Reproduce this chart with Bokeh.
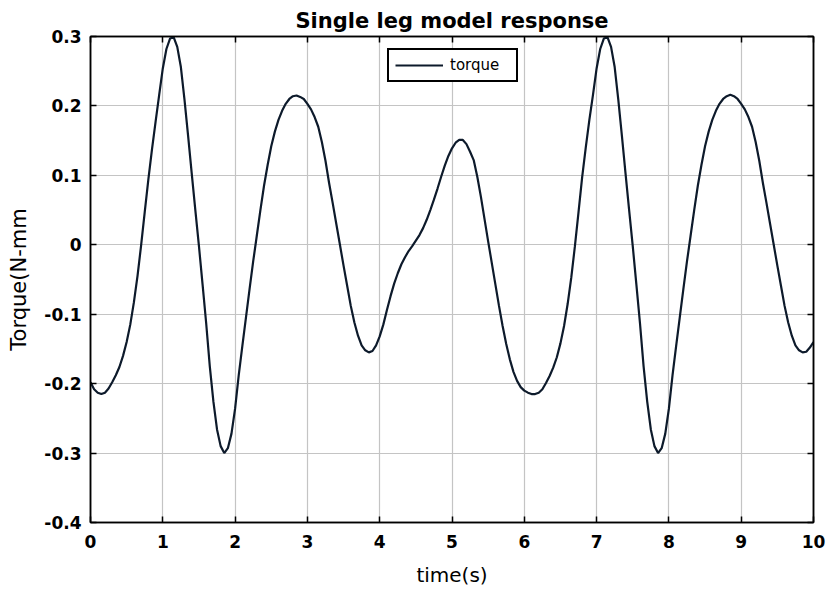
from bokeh.plotting import figure
from bokeh.models import (LinearAxis, FixedTicker, CustomJSTickFormatter, Legend, LegendItem, Range1d)
from bokeh.embed import file_html
from bokeh.resources import INLINE

# ---- data ----
time_s = [round(i * 0.05, 2) for i in range(201)]
torque = [
    -0.198, -0.208, -0.213, -0.215, -0.213, -0.207, -0.198, -0.188, -0.176, -0.160,   # 0.00-0.45
    -0.140, -0.115, -0.083, -0.045, -0.001, 0.047, 0.094, 0.137, 0.177, 0.216,       # 0.50-0.95
    0.254, 0.282, 0.297, 0.299, 0.285, 0.256, 0.209, 0.157, 0.103, 0.050,            # 1.00-1.45
    -0.002, -0.057, -0.113, -0.175, -0.226, -0.266, -0.290, -0.300, -0.293, -0.272,  # 1.50-1.95
    -0.236, -0.188, -0.146, -0.105, -0.064, -0.024, 0.013, 0.050, 0.085, 0.115,      # 2.00-2.45
    0.142, 0.163, 0.180, 0.193, 0.203, 0.210, 0.214, 0.215, 0.213, 0.210,            # 2.50-2.95
    0.203, 0.195, 0.184, 0.170, 0.148, 0.121, 0.089, 0.060, 0.030, 0.000,            # 3.00-3.45
    -0.030, -0.059, -0.088, -0.112, -0.131, -0.145, -0.152, -0.155, -0.153, -0.145,  # 3.50-3.95
    -0.132, -0.115, -0.094, -0.074, -0.056, -0.041, -0.028, -0.018, -0.009, -0.002,  # 4.00-4.45
    0.006, 0.014, 0.024, 0.036, 0.050, 0.065, 0.081, 0.098, 0.114, 0.128,            # 4.50-4.95
    0.139, 0.147, 0.151, 0.151, 0.145, 0.134, 0.122, 0.098, 0.069, 0.037,            # 5.00-5.45
    0.005, -0.026, -0.057, -0.088, -0.117, -0.143, -0.165, -0.183, -0.196, -0.205,   # 5.50-5.95
    -0.210, -0.213, -0.215, -0.215, -0.213, -0.208, -0.199, -0.189, -0.177, -0.162,  # 6.00-6.45
    -0.142, -0.117, -0.085, -0.047, -0.002, 0.047, 0.097, 0.140, 0.180, 0.216,       # 6.50-6.95
    0.254, 0.282, 0.297, 0.299, 0.285, 0.256, 0.209, 0.157, 0.103, 0.050,            # 7.00-7.45
    -0.002, -0.057, -0.113, -0.175, -0.226, -0.266, -0.290, -0.300, -0.293, -0.272,  # 7.50-7.95
    -0.236, -0.188, -0.146, -0.105, -0.064, -0.024, 0.013, 0.050, 0.085, 0.115,      # 8.00-8.45
    0.142, 0.163, 0.180, 0.193, 0.203, 0.210, 0.214, 0.216, 0.214, 0.210,            # 8.50-8.95
    0.203, 0.195, 0.184, 0.170, 0.148, 0.121, 0.089, 0.060, 0.030, 0.000,            # 9.00-9.45
    -0.030, -0.059, -0.088, -0.112, -0.131, -0.145, -0.152, -0.155, -0.154, -0.148,  # 9.50-9.95
    -0.140,                                                                          # 10.00
]
x_ticks = [0, 1, 2, 3, 4, 5, 6, 7, 8, 9, 10]
y_ticks = [-0.4, -0.3, -0.2, -0.1, 0, 0.1, 0.2, 0.3]
title_text = "Single leg model response"
x_label = "time(s)"
y_label = "Torque(N-mm"
series_name = "torque"

FONT = "DejaVu Sans"

p = figure(width=827, height=589, output_backend="svg", toolbar_location=None,
           x_range=Range1d(0, 10), y_range=Range1d(-0.4, 0.3),
           min_border_left=90, min_border_right=14, min_border_top=36, min_border_bottom=66,
           title=title_text)

p.title.align = "center"
p.title.text_font = FONT
p.title.text_font_size = "21px"
p.title.text_font_style = "bold"
p.title.text_color = "black"
p.title.offset = 0
p.title.standoff = 8

p.outline_line_color = "black"
p.outline_line_width = 1.5
p.background_fill_color = "white"
p.border_fill_color = "white"

yfmt = CustomJSTickFormatter(code="return Math.abs(tick) < 1e-9 ? '0' : tick.toFixed(1);")
blank = CustomJSTickFormatter(code="return '';")

for ax in p.xaxis:
    ax.ticker = FixedTicker(ticks=x_ticks)
for ax in p.yaxis:
    ax.ticker = FixedTicker(ticks=y_ticks)
    ax.formatter = yfmt

for ax in list(p.xaxis) + list(p.yaxis):
    ax.major_tick_in = 6
    ax.major_tick_out = 0
    ax.minor_tick_in = 0
    ax.minor_tick_out = 0
    ax.axis_line_color = "black"
    ax.axis_line_width = 1.5
    ax.major_tick_line_color = "black"
    ax.major_tick_line_width = 1.5
    ax.major_label_text_font = FONT
    ax.major_label_text_font_size = "17px"
    ax.major_label_text_font_style = "bold"
    ax.major_label_text_color = "black"
    ax.axis_label_text_font = FONT
    ax.axis_label_text_font_style = "normal"
    ax.axis_label_text_color = "black"

p.xaxis.axis_label = x_label
p.yaxis.axis_label = y_label
p.xaxis.axis_label_text_font_size = "20px"
p.yaxis.axis_label_text_font_size = "21px"
p.xaxis.major_label_standoff = 12
p.yaxis.major_label_standoff = 9
p.xaxis.axis_label_standoff = 12
p.yaxis.axis_label_standoff = 10

# mirrored axes (box with ticks on top and right)
for side, ticks in (("right", y_ticks), ("above", x_ticks)):
    ax = LinearAxis(ticker=FixedTicker(ticks=ticks), formatter=blank)
    ax.major_tick_in = 6
    ax.major_tick_out = 0
    ax.minor_tick_in = 0
    ax.minor_tick_out = 0
    ax.axis_line_color = "black"
    ax.axis_line_width = 1.5
    ax.major_tick_line_color = "black"
    ax.major_tick_line_width = 1.5
    ax.major_label_standoff = 0
    p.add_layout(ax, side)

p.xgrid.ticker = FixedTicker(ticks=x_ticks)
p.ygrid.ticker = FixedTicker(ticks=y_ticks)
p.grid.grid_line_color = "#c4c4c4"
p.grid.grid_line_width = 1.2

r = p.line(time_s, torque, line_color="#0d1a2b", line_width=2.2)

legend = Legend(items=[LegendItem(label=series_name, renderers=[r])],
                location=(297, 440))
legend.border_line_color = "black"
legend.border_line_alpha = 1.0
legend.border_line_width = 2
legend.label_text_font = FONT
legend.label_text_font_size = "15px"
legend.label_text_color = "black"
legend.glyph_width = 48
legend.glyph_height = 16
legend.label_height = 16
legend.label_width = 60
legend.padding = 6
legend.margin = 0
legend.spacing = 0
legend.label_standoff = 7
legend.background_fill_alpha = 1.0
p.add_layout(legend, "center")

open("out.html", "w").write(file_html(p, INLINE))
